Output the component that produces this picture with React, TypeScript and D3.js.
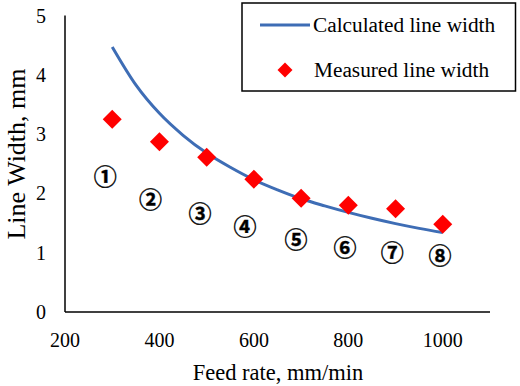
import React from "react";
import * as d3 from "d3";

const feedRates = [300, 400, 500, 600, 700, 800, 900, 1000];
const measured = [3.25, 2.87, 2.61, 2.24, 1.92, 1.80, 1.74, 1.48];
const calcX = [300, 350, 400, 450, 500, 550, 600, 650, 700, 750, 800, 850, 900, 950, 1000];
const calcY = [4.47, 3.83, 3.35, 2.98, 2.68, 2.44, 2.23, 2.06, 1.91, 1.79, 1.68, 1.58, 1.49, 1.41, 1.34];
const labelNames = ["①", "②", "③", "④", "⑤", "⑥", "⑦", "⑧"];
const labelX = [285, 381, 486, 581, 689, 793, 893, 994];
const labelY = [2.31, 1.93, 1.68, 1.47, 1.25, 1.11, 1.03, 0.98];
const xTicks = [200, 400, 600, 800, 1000];
const yTicks = [0, 1, 2, 3, 4, 5];

const W = 520;
const H = 386;
const BLUE = "#3E6DB5";
const RED = "#FF0000";
const SERIF = "'Liberation Serif', 'Times New Roman', serif";

export default function App() {
  const x = d3.scaleLinear().domain([200, 1100]).range([65, 490]);
  const y = d3.scaleLinear().domain([0, 5]).range([312, 15.5]);
  const line = d3
    .line<number>()
    .x((_, i) => x(calcX[i]))
    .y((d) => y(d))
    .curve(d3.curveMonotoneX);
  const diamond = (cx: number, cy: number, r: number) =>
    `M${cx},${cy - r}L${cx + r},${cy}L${cx},${cy + r}L${cx - r},${cy}Z`;

  return (
    <svg
      width={W}
      height={H}
      style={{ position: "absolute", left: 0, top: 0, background: "#fff" }}
      fontFamily={SERIF}
    >
      {/* axes */}
      <line x1={x(200)} x2={x(200)} y1={y(5)} y2={y(0)} stroke="#000" strokeWidth={1.5} />
      <line x1={x(200)} x2={x(1100)} y1={y(0)} y2={y(0)} stroke="#000" strokeWidth={1.5} />
      {yTicks.map((t) => (
        <text key={"y" + t} x={46} y={y(t) + 7} fontSize={20} textAnchor="end" fill="#000">
          {t}
        </text>
      ))}
      {xTicks.map((t) => (
        <text key={"x" + t} x={x(t)} y={347} fontSize={20} textAnchor="middle" fill="#000">
          {t}
        </text>
      ))}
      <text x={278} y={380} fontSize={22.5} textAnchor="middle" fill="#000">
        Feed rate, mm/min
      </text>
      <text
        transform={`translate(25,154) rotate(-90)`}
        fontSize={26}
        textAnchor="middle"
        fill="#000"
      >
        Line Width, mm
      </text>

      {/* calculated curve */}
      <path d={line(calcY) || ""} fill="none" stroke={BLUE} strokeWidth={3} />

      {/* measured */}
      {measured.map((v, i) => (
        <path key={"m" + i} d={diamond(x(feedRates[i]), y(v), 9.5)} fill={RED} />
      ))}

      {/* circled labels */}
      {labelNames.map((s, i) => (
        <text
          key={"l" + i}
          x={x(labelX[i])}
          y={y(labelY[i])}
          fontSize={23}
          textAnchor="middle"
          dominantBaseline="central"
          fontFamily="'Noto Sans CJK JP', 'DejaVu Sans', sans-serif"
          fontWeight="bold"
          fill="#000"
          stroke="#000"
          strokeWidth={0.4}
        >
          {s}
        </text>
      ))}

      {/* legend */}
      <rect x={242} y={3} width={273.5} height={88} fill="#fff" stroke="#000" strokeWidth={1.5} />
      <line x1={260} x2={310} y1={25} y2={25} stroke={BLUE} strokeWidth={3} />
      <text x={313} y={32} fontSize={21.3} fill="#000">
        Calculated line width
      </text>
      <path d={diamond(285, 70, 7.5)} fill={RED} />
      <text x={314} y={77} fontSize={21.3} fill="#000">
        Measured line width
      </text>
    </svg>
  );
}
